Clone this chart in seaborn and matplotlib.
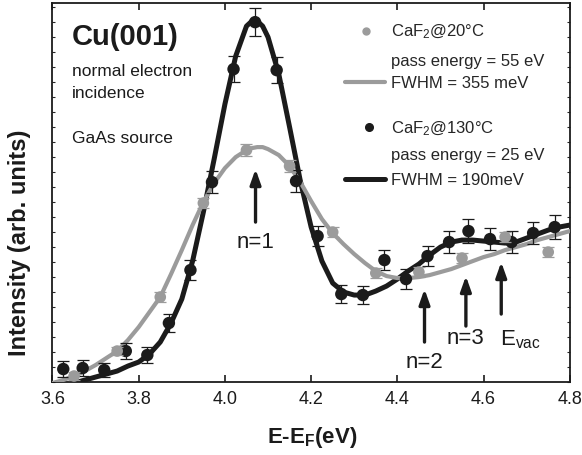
import matplotlib
matplotlib.use("Agg")
import matplotlib.pyplot as plt
import seaborn as sns
import pandas as pd
from matplotlib.ticker import MultipleLocator

sns.set_style("ticks")
plt.rcParams['font.family'] = ['Liberation Sans', 'DejaVu Sans']
plt.rcParams['mathtext.default'] = 'regular'

# measured points, CaF2 @ 20 C (grey) and @ 130 C (black)
x_20 = [3.65, 3.75, 3.85, 3.95, 4.05, 4.15, 4.25, 4.35, 4.45, 4.55, 4.65, 4.75]
y_20 = [0.06, 0.31, 0.85, 1.79, 2.32, 2.16, 1.50, 1.09, 1.10, 1.24, 1.45, 1.30]
err_20 = [0.04, 0.04, 0.05, 0.05, 0.06, 0.06, 0.05, 0.05, 0.05, 0.05, 0.05, 0.05]

x_130 = [3.625, 3.67, 3.72, 3.77, 3.82, 3.87, 3.92, 3.97, 4.02, 4.07, 4.12, 4.165,
         4.215, 4.27, 4.32, 4.37, 4.42, 4.47, 4.52, 4.565, 4.615, 4.665, 4.715, 4.765]
y_130 = [0.13, 0.14, 0.12, 0.31, 0.27, 0.59, 1.12, 2.00, 3.13, 3.60, 3.12, 2.01,
         1.46, 0.88, 0.87, 1.22, 1.03, 1.26, 1.40, 1.51, 1.43, 1.40, 1.49, 1.55]
err_130 = [0.08, 0.08, 0.07, 0.08, 0.08, 0.09, 0.10, 0.11, 0.13, 0.14, 0.13, 0.11,
           0.10, 0.09, 0.09, 0.10, 0.10, 0.10, 0.11, 0.12, 0.11, 0.11, 0.11, 0.12]

# fitted curves
fit_x = [3.600, 3.625, 3.650, 3.675, 3.700, 3.725, 3.750, 3.775, 3.800, 3.825,
         3.850, 3.875, 3.900, 3.925, 3.950, 3.975, 4.000, 4.025, 4.050, 4.0625,
         4.075, 4.0875, 4.100, 4.125, 4.150, 4.175, 4.200, 4.225, 4.250, 4.275,
         4.300, 4.325, 4.350, 4.375, 4.400, 4.425, 4.450, 4.475, 4.500, 4.525,
         4.550, 4.575, 4.600, 4.625, 4.650, 4.675, 4.700, 4.725, 4.750, 4.775, 4.800]
fit_130 = [-0.15, -0.07, -0.01, 0.02, 0.05, 0.08, 0.11, 0.16, 0.20, 0.28,
           0.40, 0.59, 0.83, 1.21, 1.70, 2.23, 2.78, 3.26, 3.56, 3.61,
           3.61, 3.56, 3.45, 3.08, 2.55, 2.01, 1.55, 1.21, 0.99, 0.90,
           0.87, 0.87, 0.91, 0.96, 1.03, 1.11, 1.18, 1.27, 1.35, 1.40,
           1.42, 1.42, 1.41, 1.40, 1.39, 1.40, 1.44, 1.48, 1.52, 1.55, 1.57]
fit_20 = [-0.01, 0.02, 0.06, 0.11, 0.17, 0.24, 0.31, 0.42, 0.55, 0.70,
          0.85, 1.08, 1.32, 1.57, 1.80, 1.99, 2.14, 2.25, 2.32, 2.34,
          2.35, 2.35, 2.33, 2.27, 2.16, 2.00, 1.81, 1.63, 1.49, 1.38,
          1.28, 1.19, 1.11, 1.06, 1.04, 1.04, 1.05, 1.07, 1.10, 1.13,
          1.17, 1.21, 1.25, 1.28, 1.32, 1.35, 1.38, 1.42, 1.45, 1.48, 1.51]

# arrow annotations: label, x, tail y, head y, text y
arrow_labels = ["n=1", "n=2", "n=3", "E$_{vac}$"]
arrow_x = [4.071, 4.463, 4.559, 4.641]
arrow_tail = [1.60, 0.40, 0.56, 0.68]
arrow_head = [2.13, 0.93, 1.06, 1.20]
arrow_text_y = [1.41, 0.21, 0.45, 0.43]

GREY = "#9b9b9b"
BLACK = "#1b1b1b"

fig, ax = plt.subplots(figsize=(5.82, 4.56), dpi=100)
fig.subplots_adjust(left=0.0902, right=0.979, bottom=0.160, top=0.992)

fits = pd.DataFrame({"E": fit_x, "hot": fit_130, "cold": fit_20})
sns.lineplot(data=fits, x="E", y="hot", color=BLACK, lw=3.6, ax=ax,
             solid_capstyle="round", zorder=2)
sns.lineplot(data=fits, x="E", y="cold", color=GREY, lw=3.0, ax=ax,
             solid_capstyle="round", zorder=3)

ax.errorbar(x_130, y_130, yerr=err_130, fmt="none", ecolor=BLACK, elinewidth=0.9,
            capsize=4, capthick=0.9, zorder=4)
sns.scatterplot(x=x_130, y=y_130, color=BLACK, s=80, edgecolor="none", ax=ax, zorder=5)
ax.errorbar(x_20, y_20, yerr=err_20, fmt="none", ecolor=GREY, elinewidth=0.9,
            capsize=4, capthick=0.9, zorder=6)
sns.scatterplot(x=x_20, y=y_20, color=GREY, s=70, edgecolor="none", ax=ax, zorder=7)

for lab, xa, yt, yh, ty in zip(arrow_labels, arrow_x, arrow_tail, arrow_head, arrow_text_y):
    ax.annotate("", xy=(xa, yh), xytext=(xa, yt),
                arrowprops=dict(arrowstyle="-|>,head_length=0.9,head_width=0.32",
                                color=BLACK, lw=2.4, shrinkA=0, shrinkB=0))
    if lab.startswith("E"):
        ax.text(xa - 0.003, ty, lab, ha="left", va="center", fontsize=16, color=BLACK)
    else:
        ax.text(xa, ty, lab, ha="center", va="center", fontsize=16, color=BLACK)

# sample info
ax.text(0.037, 0.912, "Cu(001)", transform=ax.transAxes, fontsize=21,
        fontweight="bold", va="center", ha="left", color=BLACK)
ax.text(0.037, 0.820, "normal electron", transform=ax.transAxes, fontsize=12.5,
        va="center", ha="left", color=BLACK)
ax.text(0.037, 0.763, "incidence", transform=ax.transAxes, fontsize=12.5,
        va="center", ha="left", color=BLACK)
ax.text(0.037, 0.645, "GaAs source", transform=ax.transAxes, fontsize=12.5,
        va="center", ha="left", color=BLACK)

# hand-made legend
tx = 0.655
ax.plot([0.607], [0.926], "o", color=GREY, ms=5, transform=ax.transAxes)
ax.text(tx, 0.926, "CaF$_2$@20°C", transform=ax.transAxes, fontsize=12, va="center")
ax.text(tx, 0.847, "pass energy = 55 eV", transform=ax.transAxes, fontsize=12, va="center")
ax.plot([0.565, 0.643], [0.790, 0.790], color=GREY, lw=3.0, transform=ax.transAxes)
ax.text(tx, 0.790, "FWHM = 355 meV", transform=ax.transAxes, fontsize=12, va="center")
ax.plot([0.612], [0.671], "o", color=BLACK, ms=5.5, transform=ax.transAxes)
ax.text(tx, 0.671, "CaF$_2$@130°C", transform=ax.transAxes, fontsize=12, va="center")
ax.text(tx, 0.601, "pass energy = 25 eV", transform=ax.transAxes, fontsize=12, va="center")
ax.plot([0.565, 0.643], [0.535, 0.535], color=BLACK, lw=3.6, transform=ax.transAxes)
ax.text(tx, 0.535, "FWHM = 190meV", transform=ax.transAxes, fontsize=12, va="center")

ax.set_xlim(3.6, 4.8)
ax.set_ylim(0, 3.795)
ax.yaxis.set_major_locator(MultipleLocator(0.15))
ax.set_xticks([3.6, 3.8, 4.0, 4.2, 4.4, 4.6, 4.8])
ax.set_xticklabels(["3.6", "3.8", "4.0", "4.2", "4.4", "4.6", "4.8"])
ax.tick_params(axis="x", direction="in", top=True, length=5, width=1.2,
               labelsize=13, pad=6, colors=BLACK)
ax.tick_params(axis="y", direction="in", left=True, right=True, length=2.5,
               width=0.8, labelleft=False)
for sp in ax.spines.values():
    sp.set_linewidth(1.3)
    sp.set_color(BLACK)

ax.set_xlabel("E-E$_F$(eV)", fontsize=16, fontweight="bold", color=BLACK)
ax.set_ylabel("Intensity (arb. units)", fontsize=17, fontweight="bold", color=BLACK)
ax.xaxis.set_label_coords(0.501, -0.11)
ax.yaxis.set_label_coords(-0.042, 0.37)

fig.savefig("out.png", dpi=100)
